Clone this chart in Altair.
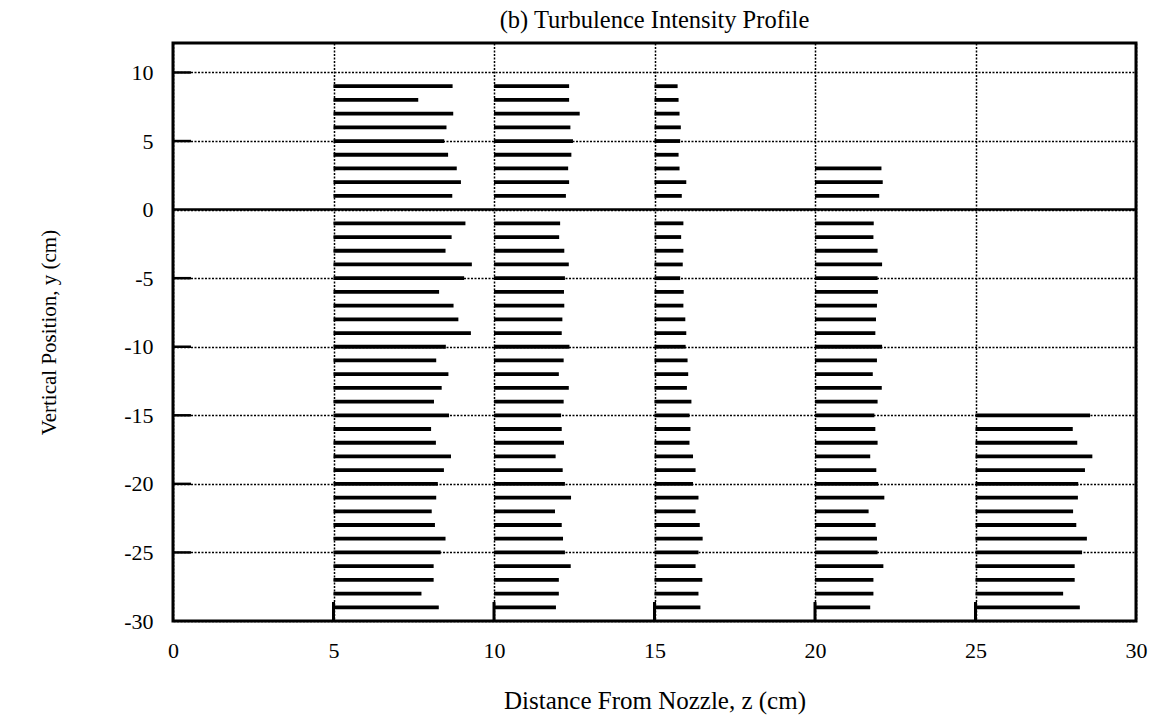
import altair as alt
import pandas as pd

# Measurement stations along the jet axis (cm)
z_stations = [5, 10, 15, 20, 25]

# Vertical positions (cm) of the measurement points
y_upper = [9, 8, 7, 6, 5, 4, 3, 2, 1]
y_lower = [-1, -2, -3, -4, -5, -6, -7, -8, -9, -10,
           -11, -12, -13, -14, -15, -16, -17, -18, -19, -20,
           -21, -22, -23, -24, -25, -26, -27, -28, -29]
y_col20_upper = [3, 2, 1]
y_col25 = [-15, -16, -17, -18, -19, -20, -21, -22, -23, -24, -25, -26, -27, -28, -29]

# Bar end positions (station + scaled turbulence intensity)
end5_upper = [8.71, 7.64, 8.73, 8.52, 8.45, 8.57, 8.84, 8.97, 8.70]
end5_lower = [9.11, 8.68, 8.49, 9.31, 9.07, 8.29, 8.74, 8.89, 9.28, 8.50,
              8.20, 8.58, 8.37, 8.13, 8.60, 8.04, 8.19, 8.66, 8.44, 8.25,
              8.20, 8.06, 8.16, 8.49, 8.34, 8.12, 8.12, 7.74, 8.28]
end10_upper = [12.34, 12.34, 12.67, 12.38, 12.46, 12.41, 12.31, 12.34, 12.24]
end10_lower = [12.06, 12.03, 12.19, 12.33, 12.21, 12.18, 12.19, 12.13, 12.11, 12.35,
               12.17, 12.02, 12.33, 12.17, 12.09, 12.11, 12.18, 11.92, 12.14, 12.21,
               12.40, 11.90, 12.11, 12.15, 12.21, 12.39, 12.02, 12.02, 11.93]
end15_upper = [15.72, 15.75, 15.78, 15.82, 15.80, 15.75, 15.78, 15.99, 15.85]
end15_lower = [15.90, 15.83, 15.90, 15.88, 15.80, 15.91, 15.90, 15.96, 15.99, 15.97,
               16.03, 16.05, 16.01, 16.15, 16.09, 16.12, 16.09, 16.20, 16.28, 16.20,
               16.37, 16.28, 16.41, 16.50, 16.37, 16.28, 16.49, 16.37, 16.43]
end20_upper = [22.07, 22.11, 22.00]
end20_lower = [21.83, 21.82, 21.95, 22.09, 21.95, 21.96, 21.93, 21.90, 21.88, 22.09,
               21.93, 21.80, 22.08, 21.95, 21.85, 21.88, 21.95, 21.72, 21.91, 21.97,
               22.16, 21.67, 21.89, 21.93, 21.95, 22.13, 21.82, 21.82, 21.72]
end25 = [28.57, 28.03, 28.17, 28.64, 28.41, 28.20, 28.19, 28.04, 28.14, 28.47,
         28.32, 28.09, 28.09, 27.73, 28.25]

x_ticks = [0, 5, 10, 15, 20, 25, 30]
y_ticks = [-30, -25, -20, -15, -10, -5, 0, 5, 10]
left_tick_marks = [-25, -20, -15, -10, -5, 5, 10]
bottom_tick_marks = [5, 10, 15, 20, 25]

rows = []
def add(z, ys, ends):
    for yv, e in zip(ys, ends):
        rows.append({"z0": z, "z1": e, "y": yv})

add(5, y_upper, end5_upper)
add(5, y_lower, end5_lower)
add(10, y_upper, end10_upper)
add(10, y_lower, end10_lower)
add(15, y_upper, end15_upper)
add(15, y_lower, end15_lower)
add(20, y_col20_upper, end20_upper)
add(20, y_lower, end20_lower)
add(25, y_col25, end25)
bars_df = pd.DataFrame(rows)

FONT = "Liberation Serif"
W, H = 963, 578

xscale = alt.Scale(domain=[0, 30], nice=False, zero=False)
yscale = alt.Scale(domain=[-30, 12.15], nice=False, zero=False)

xaxis = alt.Axis(values=x_ticks, title="Distance From Nozzle, z (cm)",
                 labelExpr="'' + datum.value", labelFlush=False,
                 labelPadding=19, titlePadding=27, titleFontSize=25)
yaxis = alt.Axis(values=y_ticks, title="Vertical Position, y (cm)",
                 labelExpr="'' + datum.value", labelFlush=False,
                 labelPadding=20, titlePadding=64, titleFontSize=21)

bars = alt.Chart(bars_df).mark_rule(color="black", strokeWidth=3.8, strokeCap="butt").encode(
    x=alt.X("z0:Q", scale=xscale, axis=xaxis),
    x2="z1:Q",
    y=alt.Y("y:Q", scale=yscale, axis=yaxis),
)

zero_line = alt.Chart(pd.DataFrame({"y": [0]})).mark_rule(color="black", strokeWidth=2.5).encode(
    y=alt.Y("y:Q", scale=yscale)
)

left_ticks = alt.Chart(pd.DataFrame({"y": left_tick_marks})).mark_rule(
    color="black", strokeWidth=2.5
).encode(
    y=alt.Y("y:Q", scale=yscale),
    x=alt.value(0),
    x2=alt.value(18),
)

bottom_ticks = alt.Chart(pd.DataFrame({"x": bottom_tick_marks})).mark_rule(
    color="black", strokeWidth=3
).encode(
    x=alt.X("x:Q", scale=xscale),
    y=alt.value(H),
    y2=alt.value(H - 19),
)

chart = alt.layer(bars, zero_line, left_ticks, bottom_ticks).properties(
    width=W,
    height=H,
    autosize="none",
    padding={"left": 173, "top": 43, "right": 22, "bottom": 98},
    background="white",
    title=alt.TitleParams(
        "(b) Turbulence Intensity Profile",
        font=FONT, fontSize=24.5, fontWeight="normal", color="black",
        anchor="middle", baseline="alphabetic", offset=13, dy=22,
    ),
).configure_view(
    stroke="black", strokeWidth=3
).configure_axis(
    grid=True, gridColor="black", gridDash=[2, 1.5], gridWidth=1.5, gridOpacity=1,
    domain=False, ticks=False,
    labelFont=FONT, labelFontSize=22, labelColor="black",
    titleFont=FONT, titleFontWeight="normal", titleColor="black",
)

chart.save("out.html", embed_options={"renderer": "svg", "actions": False})
